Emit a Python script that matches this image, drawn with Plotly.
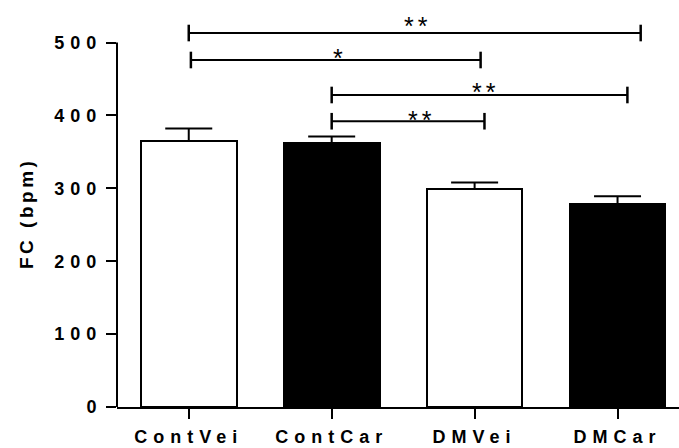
import plotly.graph_objects as go

categories = ["ContVei", "ContCar", "DMVei", "DMCar"]
means = [365, 362, 299, 278]
errors = [17, 9, 9, 11]
fills = ["white", "black", "white", "black"]
y_ticks = [0, 100, 200, 300, 400, 500]

# significance brackets: (x start, x end, y level, label, label x, label y)
brackets = [
    (0.0, 3.162, 513, "**", 1.583, 530),
    (0.015, 2.042, 476, "*", 1.043, 486),
    (1.0, 3.069, 428, "**", 2.059, 439),
    (1.0, 2.069, 392, "**", 1.612, 401),
]

FONT = "Liberation Sans"
LS_TICK = 6

def spaced(t, ls, bold=True):
    inner = f'<span style="letter-spacing:{ls}px">{t}</span>'
    return f"<b>{inner}</b>" if bold else inner

xs = list(range(len(categories)))

fig = go.Figure()
fig.add_trace(go.Bar(
    x=xs, y=means, width=0.67,
    marker=dict(color=fills, line=dict(color="black", width=2)),
    error_y=dict(type="data", symmetric=False, array=errors,
                 arrayminus=[0] * len(errors), color="black",
                 thickness=2, width=23.5),
    showlegend=False,
))

shapes = [dict(type="line", xref="paper", yref="y", x0=0, x1=0, y0=0, y1=500,
               line=dict(color="black", width=2))]
annotations = []
tick_half = 11.4
for x0, x1, yv, lab, lx, ly in brackets:
    shapes.append(dict(type="line", xref="x", yref="y", x0=x0, x1=x1, y0=yv, y1=yv,
                       line=dict(color="black", width=2)))
    for xe in (x0, x1):
        shapes.append(dict(type="line", xref="x", yref="y", x0=xe, x1=xe,
                           y0=yv - tick_half, y1=yv + tick_half,
                           line=dict(color="black", width=2.5)))
    txt = spaced(lab, 4, bold=False) if len(lab) > 1 else lab
    annotations.append(dict(x=lx + (0.014 if len(lab) > 1 else 0), y=ly - 7.2,
                            xref="x", yref="y", text=txt, showarrow=False,
                            xanchor="center", yanchor="middle",
                            font=dict(family=FONT, size=25, color="black")))

annotations.append(dict(x=(26 - 117) / 562, y=(407 - 214) / 407, xref="paper", yref="paper",
                        text=spaced("FC (bpm)", 3.5), showarrow=False, textangle=-90,
                        xanchor="center", yanchor="middle",
                        font=dict(family=FONT, size=19, color="black")))

fig.update_layout(
    width=679, height=448,
    margin=dict(l=117, r=0, t=0, b=41, pad=0, autoexpand=False),
    plot_bgcolor="white", paper_bgcolor="white",
    bargap=0,
    shapes=shapes, annotations=annotations,
    xaxis=dict(range=[-0.502, 3.43], tickvals=xs, automargin=False,
               ticktext=[spaced(c, LS_TICK) for c in categories],
               showline=True, linecolor="black", linewidth=2,
               ticks="outside", ticklen=10, tickwidth=2, tickcolor="black",
               showgrid=False, zeroline=False, ticklabelstandoff=2,
               tickfont=dict(family=FONT, size=18, color="black")),
    yaxis=dict(range=[0, 558.3], tickvals=y_ticks, automargin=False,
               ticktext=[spaced(str(v), LS_TICK) for v in y_ticks],
               showline=False,
               ticks="outside", ticklen=10, tickwidth=2, tickcolor="black",
               showgrid=False, zeroline=False,
               tickfont=dict(family=FONT, size=18, color="black")),
)

fig.write_html("out.html")
